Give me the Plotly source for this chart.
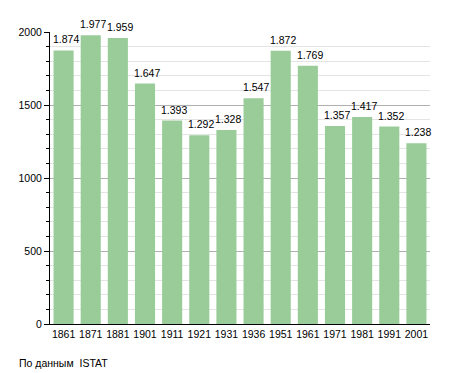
import plotly.graph_objects as go

years = ["1861", "1871", "1881", "1901", "1911", "1921", "1931", "1936", "1951", "1961", "1971", "1981", "1991", "2001"]
population = [1874, 1977, 1959, 1647, 1393, 1292, 1328, 1547, 1872, 1769, 1357, 1417, 1352, 1238]
labels = ["1.874", "1.977", "1.959", "1.647", "1.393", "1.292", "1.328", "1.547", "1.872", "1.769", "1.357", "1.417", "1.352", "1.238"]
y_ticks = [0, 500, 1000, 1500, 2000]

FONT = "Liberation Sans, Arial, sans-serif"
FS = 10.5

fig = go.Figure()
fig.add_trace(go.Bar(x=years, y=population, marker=dict(color="#99cc99", line=dict(width=0)),
                     hoverinfo="x+y"))

# value labels: annotations placed on category positions (index on the category axis)
for i, (v, lab) in enumerate(zip(population, labels)):
    fig.add_annotation(x=i, y=v, text=lab, showarrow=False, xanchor="left", yanchor="bottom",
                       xshift=-13, yshift=3, font=dict(size=FS, color="black", family=FONT))

fig.add_annotation(text="По данным  ISTAT", xref="paper", yref="paper", x=-0.087, y=-0.105,
                   xanchor="left", yanchor="top", showarrow=False,
                   font=dict(size=FS, color="black", family=FONT))

# page body adds an 8px margin, so the figure is 8px smaller and margins compensate
fig.update_layout(
    width=447, height=365,
    margin=dict(l=42, r=25, t=24, b=49, autoexpand=False),
    paper_bgcolor="white", plot_bgcolor="white",
    bargap=0.26, showlegend=False,
    font=dict(family=FONT, size=FS, color="black"),
)
fig.update_xaxes(type="category", categoryorder="array", categoryarray=years,
                 range=[-0.5, len(years) - 0.5],
                 showline=True, linecolor="black", linewidth=1, ticks="", showgrid=False,
                 tickangle=0, tickfont=dict(size=FS), fixedrange=True)
fig.update_yaxes(range=[0, 2000], tickvals=y_ticks, showline=True, linecolor="black", linewidth=1,
                 ticks="outside", ticklen=5, tickcolor="black", gridcolor="#b0b0b0", gridwidth=1,
                 zeroline=False, tickfont=dict(size=FS), fixedrange=True,
                 minor=dict(dtick=100, showgrid=True, gridcolor="#e4e4e4", ticks="outside",
                            ticklen=3, tickcolor="black"))

fig.write_html("out.html")
